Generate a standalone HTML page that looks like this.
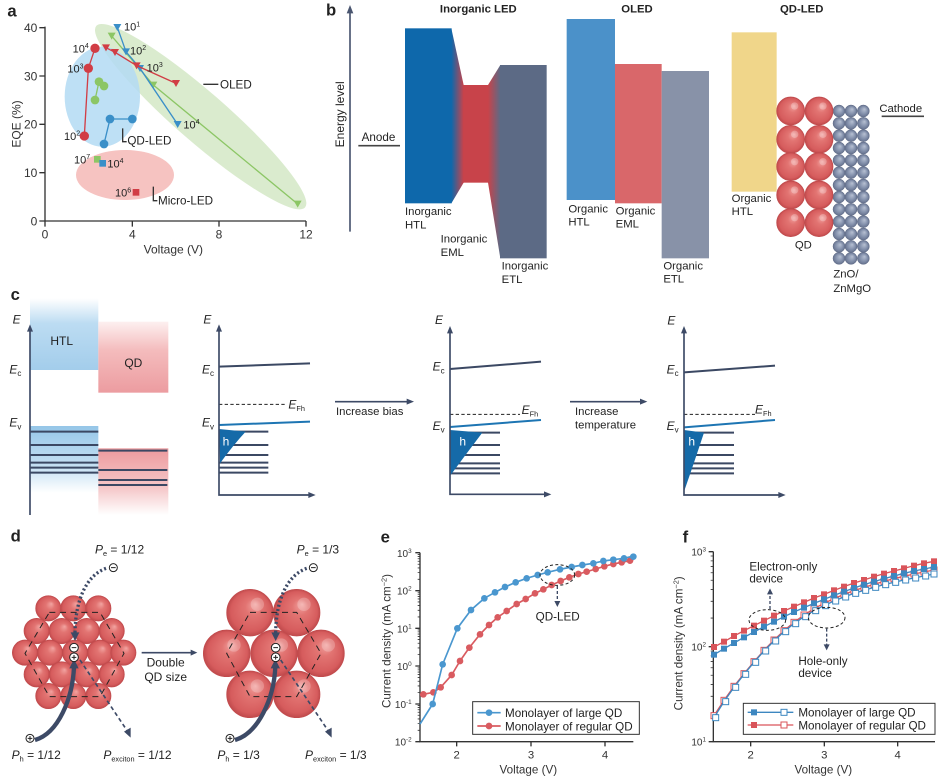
<!DOCTYPE html>
<html><head><meta charset="utf-8"><style>
html,body{margin:0;padding:0;background:#fff;}
svg{display:block;font-family:"Liberation Sans",Arial,sans-serif;}
</style></head><body>
<svg width="946" height="784" viewBox="0 0 946 784" xmlns="http://www.w3.org/2000/svg">
<defs>
<linearGradient id="gHE" x1="0" y1="0" x2="1" y2="0"><stop offset="0" stop-color="#0e68ab"/><stop offset="1" stop-color="#c8434a"/></linearGradient>
<linearGradient id="gEE" x1="0" y1="0" x2="1" y2="0"><stop offset="0" stop-color="#c8434a"/><stop offset="1" stop-color="#5c6a85"/></linearGradient>
<radialGradient id="sph" cx="0.5" cy="0.5" r="0.5" fx="0.62" fy="0.32"><stop offset="0" stop-color="#f2a4a1"/><stop offset="0.35" stop-color="#e27472"/><stop offset="0.85" stop-color="#d65c5d"/><stop offset="1" stop-color="#c04a4c"/></radialGradient>
<radialGradient id="zno" cx="0.5" cy="0.5" r="0.5" fx="0.6" fy="0.35"><stop offset="0" stop-color="#b8c1d3"/><stop offset="0.6" stop-color="#8592ad"/><stop offset="1" stop-color="#66728e"/></radialGradient>
<linearGradient id="gHT" x1="0" y1="0" x2="0" y2="1"><stop offset="0" stop-color="#ffffff"/><stop offset="0.35" stop-color="#bcdcf2"/><stop offset="1" stop-color="#a3cdeb"/></linearGradient>
<linearGradient id="gQT" x1="0" y1="0" x2="0" y2="1"><stop offset="0" stop-color="#fdf0f0"/><stop offset="0.4" stop-color="#f4bcbd"/><stop offset="1" stop-color="#ec9ca0"/></linearGradient>
<linearGradient id="gHL" x1="0" y1="0" x2="0" y2="1"><stop offset="0" stop-color="#95c6e8"/><stop offset="0.6" stop-color="#c5e0f3"/><stop offset="1" stop-color="#ffffff"/></linearGradient>
<linearGradient id="gQL" x1="0" y1="0" x2="0" y2="1"><stop offset="0" stop-color="#ec9a9d"/><stop offset="0.6" stop-color="#f5c8c9"/><stop offset="1" stop-color="#ffffff"/></linearGradient>
</defs>
<rect width="946" height="784" fill="#fff"/>

<!-- ===== Panel a ===== -->
<svg x="0" y="0" width="320" height="250" viewBox="0 0 960 750" overflow="visible">
<text x="22" y="50" font-size="50" font-weight="bold" fill="#222">a</text>
<ellipse cx="602" cy="350" rx="415" ry="75" transform="rotate(41 602 350)" fill="#d6e9c9" opacity="0.9"/>
<ellipse cx="307" cy="290" rx="113" ry="150" fill="#b3daf3" opacity="0.85"/>
<ellipse cx="375" cy="525" rx="147" ry="75" fill="#f6c3c1"/>
<path d="M135,80 V663 H918" stroke="#333" stroke-width="4" fill="none"/>
<path d="M118,83H135 M118,228H135 M118,373H135 M118,518H135 M118,663H135 M135,663V680 M397,663V680 M657,663V680 M918,663V680" stroke="#333" stroke-width="4"/>
<g font-size="36" fill="#333" text-anchor="end">
<text x="112" y="96">40</text><text x="112" y="241">30</text><text x="112" y="386">20</text><text x="112" y="531">10</text><text x="112" y="676">0</text>
</g>
<g font-size="36" fill="#333" text-anchor="middle">
<text x="135" y="716">0</text><text x="397" y="716">4</text><text x="657" y="716">8</text><text x="918" y="716">12</text>
<text x="520" y="760">Voltage (V)</text>
<text transform="translate(62,372) rotate(-90)">EQE (%)</text>
</g>
<polyline points="335,108 460,255 893,612" fill="none" stroke="#8cc665" stroke-width="4"/>
<g fill="#8cc665">
<polygon points="323,98 347,98 335,119"/><polygon points="448,245 472,245 460,266"/><polygon points="881,602 905,602 893,623"/>
</g>
<polyline points="285,300 297,245 312,258" fill="none" stroke="#8cc665" stroke-width="4"/>
<g fill="#8cc665"><circle cx="285" cy="300" r="13"/><circle cx="297" cy="245" r="13"/><circle cx="312" cy="258" r="13"/></g>
<polyline points="352,82 378,155 420,205 533,373" fill="none" stroke="#3a8fc8" stroke-width="4"/>
<g fill="#3a8fc8">
<polygon points="340,72 364,72 352,93"/><polygon points="366,145 390,145 378,166"/><polygon points="408,195 432,195 420,216"/><polygon points="521,363 545,363 533,384"/>
</g>
<polyline points="312,432 330,357 397,357" fill="none" stroke="#3a8fc8" stroke-width="4"/>
<g fill="#3a8fc8"><circle cx="312" cy="432" r="13"/><circle cx="330" cy="357" r="13"/><circle cx="397" cy="357" r="13"/></g>
<polyline points="318,143 345,157 410,197 528,250" fill="none" stroke="#d13d45" stroke-width="4"/>
<g fill="#d13d45">
<polygon points="306,133 330,133 318,154"/><polygon points="333,147 357,147 345,168"/><polygon points="398,187 422,187 410,208"/><polygon points="516,240 540,240 528,261"/>
</g>
<polyline points="253,408 265,205 285,145" fill="none" stroke="#d13d45" stroke-width="4"/>
<g fill="#d13d45"><circle cx="253" cy="408" r="14"/><circle cx="265" cy="205" r="14"/><circle cx="285" cy="145" r="14"/></g>
<rect x="282" y="468" width="20" height="20" fill="#8cc665"/>
<rect x="298" y="480" width="20" height="20" fill="#3a8fc8"/>
<rect x="398" y="567" width="20" height="20" fill="#d13d45"/>
<g font-size="33" fill="#222">
<text x="372" y="92">10<tspan font-size="21" dy="-13">1</tspan></text>
<text x="390" y="163">10<tspan font-size="21" dy="-13">2</tspan></text>
<text x="440" y="214">10<tspan font-size="21" dy="-13">3</tspan></text>
<text x="550" y="385">10<tspan font-size="21" dy="-13">4</tspan></text>
<text x="218" y="157">10<tspan font-size="21" dy="-13">4</tspan></text>
<text x="202" y="218">10<tspan font-size="21" dy="-13">3</tspan></text>
<text x="192" y="420">10<tspan font-size="21" dy="-13">2</tspan></text>
<text x="222" y="490">10<tspan font-size="21" dy="-13">7</tspan></text>
<text x="322" y="502">10<tspan font-size="21" dy="-13">4</tspan></text>
<text x="345" y="590">10<tspan font-size="21" dy="-13">6</tspan></text>
</g>
<path d="M610,253H655 M368,385V425H380 M460,560V602H472" stroke="#333" stroke-width="4" fill="none"/>
<g font-size="35" fill="#222">
<text x="660" y="265">OLED</text>
<text x="382" y="433">QD-LED</text>
<text x="474" y="614">Micro-LED</text>
</g>
</svg>

<!-- ===== Panel b left ===== -->
<svg x="320" y="0" width="320" height="300" viewBox="0 0 960 900" overflow="visible">
<text x="18" y="47" font-size="50" font-weight="bold" fill="#222">b</text>
<line x1="90" y1="695" x2="90" y2="35" stroke="#4a5670" stroke-width="5"/>
<polygon points="80,40 100,40 90,15" fill="#4a5670"/>
<text transform="translate(72,343) rotate(-90)" text-anchor="middle" font-size="36" fill="#222">Energy level</text>
<text x="475" y="37" text-anchor="middle" font-size="34" font-weight="bold" fill="#222">Inorganic LED</text>
<text x="125" y="423" font-size="35" fill="#222">Anode</text>
<line x1="115" y1="437" x2="240" y2="437" stroke="#444" stroke-width="5"/>
<rect x="255" y="85" width="140" height="525" fill="#0e68ab"/>
<polygon points="394,85 431,255 431,548 394,610" fill="url(#gHE)"/>
<rect x="430" y="255" width="75" height="293" fill="#c8434a"/>
<polygon points="504,255 541,195 541,775 504,548" fill="url(#gEE)"/>
<rect x="540" y="195" width="140" height="580" fill="#5c6a85"/>
<rect x="740" y="57" width="145" height="543" fill="#4b91c9"/>
<g font-size="34" fill="#222">
<text x="255" y="645">Inorganic</text><text x="255" y="685">HTL</text>
<text x="362" y="727">Inorganic</text><text x="362" y="768">EML</text>
<text x="545" y="808">Inorganic</text><text x="545" y="849">ETL</text>
<text x="745" y="638">Organic</text><text x="745" y="676">HTL</text>
<text x="887" y="644">Organic</text><text x="887" y="683">EML</text>
</g>
<text x="951" y="37" text-anchor="middle" font-size="34" font-weight="bold" fill="#222">OLED</text>
</svg>

<!-- ===== Panel b right ===== -->
<svg x="630" y="0" width="316" height="300" viewBox="0 0 948 900" overflow="visible">
<rect x="-45" y="192" width="140" height="418" fill="#d9676a"/>
<rect x="95" y="213" width="142" height="562" fill="#8892a8"/>
<g font-size="34" fill="#222">
<text x="100" y="808">Organic</text><text x="100" y="848">ETL</text>
</g>
<text x="515" y="37" text-anchor="middle" font-size="34" font-weight="bold" fill="#222">QD-LED</text>
<rect x="305" y="97" width="135" height="478" fill="#f0d68a"/>
<g font-size="34" fill="#222">
<text x="305" y="606">Organic</text><text x="305" y="645">HTL</text>
<text x="520" y="745" text-anchor="middle">QD</text>
<text x="610" y="833">ZnO/</text><text x="610" y="876">ZnMgO</text>
<text x="748" y="336">Cathode</text>
</g>
<line x1="755" y1="349" x2="882" y2="349" stroke="#444" stroke-width="5"/>
<g fill="url(#zno)" stroke="#5f6b87" stroke-width="1.5">
<circle cx="627" cy="333" r="18"/><circle cx="663" cy="333" r="18"/><circle cx="700" cy="333" r="18"/>
<circle cx="627" cy="370" r="18"/><circle cx="663" cy="370" r="18"/><circle cx="700" cy="370" r="18"/>
<circle cx="627" cy="407" r="18"/><circle cx="663" cy="407" r="18"/><circle cx="700" cy="407" r="18"/>
<circle cx="627" cy="444" r="18"/><circle cx="663" cy="444" r="18"/><circle cx="700" cy="444" r="18"/>
<circle cx="627" cy="481" r="18"/><circle cx="663" cy="481" r="18"/><circle cx="700" cy="481" r="18"/>
<circle cx="627" cy="518" r="18"/><circle cx="663" cy="518" r="18"/><circle cx="700" cy="518" r="18"/>
<circle cx="627" cy="555" r="18"/><circle cx="663" cy="555" r="18"/><circle cx="700" cy="555" r="18"/>
<circle cx="627" cy="591" r="18"/><circle cx="663" cy="591" r="18"/><circle cx="700" cy="591" r="18"/>
<circle cx="627" cy="628" r="18"/><circle cx="663" cy="628" r="18"/><circle cx="700" cy="628" r="18"/>
<circle cx="627" cy="665" r="18"/><circle cx="663" cy="665" r="18"/><circle cx="700" cy="665" r="18"/>
<circle cx="627" cy="702" r="18"/><circle cx="663" cy="702" r="18"/><circle cx="700" cy="702" r="18"/>
<circle cx="627" cy="739" r="18"/><circle cx="663" cy="739" r="18"/><circle cx="700" cy="739" r="18"/>
<circle cx="627" cy="775" r="18"/><circle cx="663" cy="775" r="18"/><circle cx="700" cy="775" r="18"/>
</g>
<g fill="url(#sph)" stroke="#c04a4c" stroke-width="2">
<circle cx="482" cy="333" r="42"/><circle cx="567" cy="333" r="42"/>
<circle cx="482" cy="418" r="42"/><circle cx="567" cy="418" r="42"/>
<circle cx="482" cy="500" r="42"/><circle cx="567" cy="500" r="42"/>
<circle cx="482" cy="585" r="42"/><circle cx="567" cy="585" r="42"/>
<circle cx="482" cy="668" r="42"/><circle cx="567" cy="668" r="42"/>
</g>
<g fill="#fff" opacity="0.25">
<circle cx="494" cy="318" r="11"/><circle cx="579" cy="318" r="11"/>
<circle cx="494" cy="403" r="11"/><circle cx="579" cy="403" r="11"/>
<circle cx="494" cy="485" r="11"/><circle cx="579" cy="485" r="11"/>
<circle cx="494" cy="570" r="11"/><circle cx="579" cy="570" r="11"/>
<circle cx="494" cy="653" r="11"/><circle cx="579" cy="653" r="11"/>
</g>
</svg>

<!-- ===== Panel c left ===== -->
<svg x="0" y="285" width="320" height="230" viewBox="0 0 960 690" overflow="visible">
<text x="32" y="45" font-size="50" font-weight="bold" fill="#222">c</text>
<rect x="90" y="40" width="205" height="215" fill="url(#gHT)"/>
<rect x="295" y="110" width="210" height="213" fill="url(#gQT)"/>
<rect x="90" y="423" width="205" height="200" fill="url(#gHL)"/>
<rect x="295" y="490" width="210" height="200" fill="url(#gQL)"/>
<g stroke="#3b4863" stroke-width="6">
<path d="M90,440H295 M90,480H295 M90,510H295 M90,533H295 M90,548H295 M90,563H295"/>
<path d="M295,497H502 M295,555H502 M295,585H502 M295,600H502"/>
</g>
<line x1="90" y1="690" x2="90" y2="135" stroke="#3d4a66" stroke-width="5"/>
<polygon points="81,140 99,140 90,118" fill="#3d4a66"/>
<text x="185" y="180" text-anchor="middle" font-size="36" fill="#222">HTL</text>
<text x="400" y="246" text-anchor="middle" font-size="36" fill="#222">QD</text>
<g font-size="36" fill="#222" font-style="italic">
<text x="38" y="115">E</text>
<text x="28" y="265">E<tspan font-style="normal" font-size="24" dy="8">c</tspan></text>
<text x="28" y="425">E<tspan font-style="normal" font-size="24" dy="8">v</tspan></text>
<text x="610" y="115">E</text>
<text x="606" y="265">E<tspan font-style="normal" font-size="24" dy="8">c</tspan></text>
<text x="606" y="425">E<tspan font-style="normal" font-size="24" dy="8">v</tspan></text>
<text x="865" y="370">E<tspan font-style="normal" font-size="22" dy="8">Fh</tspan></text>
</g>
<g stroke="#3b4863" stroke-width="6">
<path d="M690,440H805 M675,480H805 M660,510H805 M657,533H805 M657,548H805 M657,563H805"/>
</g>
<path d="M657,432 L737,440 Q700,480 660,535 Z" fill="#156aa8"/>
<text x="668" y="482" font-size="36" fill="#fff">h</text>
<line x1="657" y1="245" x2="930" y2="235" stroke="#3b4863" stroke-width="6"/>
<line x1="657" y1="358" x2="855" y2="358" stroke="#222" stroke-width="3" stroke-dasharray="10 7"/>
<line x1="657" y1="420" x2="930" y2="410" stroke="#1d75b3" stroke-width="6"/>
<path d="M657,135V630H930" stroke="#3d4a66" stroke-width="5" fill="none"/>
<polygon points="648,140 666,140 657,118" fill="#3d4a66"/>
<polygon points="925,621 925,639 947,630" fill="#3d4a66"/>
</svg>

<!-- ===== Panel c middle ===== -->
<svg x="320" y="300" width="320" height="210" viewBox="0 0 960 630" overflow="visible">
<line x1="45" y1="305" x2="265" y2="305" stroke="#3d4a66" stroke-width="5"/>
<polygon points="260,296 260,314 282,305" fill="#3d4a66"/>
<text x="48" y="345" font-size="34" fill="#222">Increase bias</text>
<line x1="750" y1="305" x2="965" y2="305" stroke="#3d4a66" stroke-width="5"/>
<polygon points="960,296 960,314 982,305" fill="#3d4a66"/>
<text x="765" y="345" font-size="34" fill="#222">Increase</text>
<text x="765" y="385" font-size="34" fill="#222">temperature</text>
<g stroke="#3b4863" stroke-width="6">
<path d="M420,398H540 M440,435H540 M410,465H540 M395,490H540 M390,505H540 M390,520H540"/>
</g>
<path d="M390,390 L487,398 Q440,460 392,525 Z" fill="#156aa8"/>
<text x="418" y="437" font-size="36" fill="#fff">h</text>
<line x1="390" y1="207" x2="663" y2="185" stroke="#3b4863" stroke-width="6"/>
<line x1="390" y1="343" x2="600" y2="343" stroke="#222" stroke-width="3" stroke-dasharray="10 7"/>
<line x1="390" y1="381" x2="663" y2="360" stroke="#1d75b3" stroke-width="6"/>
<path d="M390,95V583H675" stroke="#3d4a66" stroke-width="5" fill="none"/>
<polygon points="381,100 399,100 390,78" fill="#3d4a66"/>
<polygon points="672,574 672,592 694,583" fill="#3d4a66"/>
<g font-size="36" fill="#222" font-style="italic">
<text x="345" y="72">E</text>
<text x="338" y="212">E<tspan font-style="normal" font-size="24" dy="8">c</tspan></text>
<text x="338" y="390">E<tspan font-style="normal" font-size="24" dy="8">v</tspan></text>
<text x="605" y="342">E<tspan font-style="normal" font-size="22" dy="8">Fh</tspan></text>
</g>
</svg>

<!-- ===== Panel c right ===== -->
<svg x="630" y="300" width="316" height="210" viewBox="0 0 948 630" overflow="visible">
<g stroke="#3b4863" stroke-width="6">
<path d="M190,398H312 M190,435H312 M180,465H312 M175,490H312 M170,505H312 M165,520H312"/>
</g>
<path d="M162,390 L222,398 Q195,480 162,575 Z" fill="#156aa8"/>
<text x="175" y="437" font-size="36" fill="#fff">h</text>
<line x1="162" y1="217" x2="435" y2="197" stroke="#3b4863" stroke-width="6"/>
<line x1="162" y1="343" x2="375" y2="343" stroke="#222" stroke-width="3" stroke-dasharray="10 7"/>
<line x1="162" y1="382" x2="435" y2="360" stroke="#1d75b3" stroke-width="6"/>
<path d="M162,95V585H448" stroke="#3d4a66" stroke-width="5" fill="none"/>
<polygon points="153,100 171,100 162,78" fill="#3d4a66"/>
<polygon points="445,576 445,594 467,585" fill="#3d4a66"/>
<g font-size="36" fill="#222" font-style="italic">
<text x="112" y="74">E</text>
<text x="110" y="220">E<tspan font-style="normal" font-size="24" dy="8">c</tspan></text>
<text x="110" y="390">E<tspan font-style="normal" font-size="24" dy="8">v</tspan></text>
<text x="375" y="340">E<tspan font-style="normal" font-size="22" dy="8">Fh</tspan></text>
</g>
</svg>

<!-- ===== Panel d ===== -->
<svg x="0" y="525" width="370" height="259" viewBox="0 0 1110 777" overflow="visible">
<text x="32" y="50" font-size="50" font-weight="bold" fill="#222">d</text>
<g fill="url(#sph)" stroke="#c24b4d" stroke-width="2">
<circle cx="145" cy="250" r="38"/><circle cx="220" cy="250" r="38"/><circle cx="295" cy="250" r="38"/>
<circle cx="110" cy="318" r="38"/><circle cx="185" cy="318" r="38"/><circle cx="260" cy="318" r="38"/><circle cx="335" cy="318" r="38"/>
<circle cx="75" cy="383" r="38"/><circle cx="150" cy="383" r="38"/><circle cx="225" cy="383" r="38"/><circle cx="300" cy="383" r="38"/><circle cx="370" cy="383" r="38"/>
<circle cx="110" cy="448" r="38"/><circle cx="185" cy="448" r="38"/><circle cx="260" cy="448" r="38"/><circle cx="335" cy="448" r="38"/>
<circle cx="145" cy="513" r="38"/><circle cx="220" cy="513" r="38"/><circle cx="295" cy="513" r="38"/>
</g>
<g fill="url(#sph)" stroke="#c24b4d" stroke-width="2">
<circle cx="750" cy="263" r="70"/><circle cx="890" cy="263" r="70"/>
<circle cx="680" cy="385" r="70"/><circle cx="822" cy="385" r="70"/><circle cx="963" cy="385" r="70"/>
<circle cx="750" cy="508" r="70"/><circle cx="890" cy="508" r="70"/>
</g>
<g fill="#fff" opacity="0.22">
<circle cx="772" cy="238" r="20"/><circle cx="912" cy="238" r="20"/><circle cx="702" cy="360" r="20"/><circle cx="844" cy="360" r="20"/><circle cx="985" cy="360" r="20"/><circle cx="772" cy="483" r="20"/><circle cx="912" cy="483" r="20"/>
</g>
<g fill="none" stroke="#222" stroke-width="3" stroke-dasharray="18 14">
<polygon points="148,262 300,262 372,385 300,515 148,515 75,385"/>
<polygon points="750,262 890,262 963,385 890,515 750,515 680,385"/>
</g>
<path d="M318,130 C262,150 226,220 225,325" fill="none" stroke="#3d4a66" stroke-width="10" stroke-dasharray="6 7"/>
<polygon points="212,322 238,322 225,348" fill="#3d4a66"/>
<path d="M105,645 C175,625 218,520 222,425" fill="none" stroke="#3d4a66" stroke-width="13"/>
<polygon points="208,430 236,430 222,402" fill="#3d4a66"/>
<path d="M240,405 L382,618" fill="none" stroke="#3d4a66" stroke-width="5" stroke-dasharray="12 9"/>
<polygon points="372,620 392,608 392,638" fill="#3d4a66"/>
<path d="M920,130 C864,150 828,220 827,325" fill="none" stroke="#3d4a66" stroke-width="10" stroke-dasharray="6 7"/>
<polygon points="814,322 840,322 827,348" fill="#3d4a66"/>
<path d="M705,645 C775,625 822,520 826,425" fill="none" stroke="#3d4a66" stroke-width="13"/>
<polygon points="812,430 840,430 826,402" fill="#3d4a66"/>
<path d="M842,405 L985,618" fill="none" stroke="#3d4a66" stroke-width="5" stroke-dasharray="12 9"/>
<polygon points="975,620 995,608 995,638" fill="#3d4a66"/>
<g fill="#fff" stroke="#222" stroke-width="3">
<circle cx="340" cy="128" r="12"/><circle cx="90" cy="640" r="12"/>
<circle cx="222" cy="368" r="13"/><circle cx="222" cy="397" r="13"/>
<circle cx="940" cy="128" r="12"/><circle cx="690" cy="640" r="12"/>
<circle cx="827" cy="368" r="13"/><circle cx="827" cy="397" r="13"/>
</g>
<g stroke="#222" stroke-width="3">
<path d="M333,128H347 M83,640H97 M90,633V647 M215,368H229 M215,397H229 M222,390V404"/>
<path d="M933,128H947 M683,640H697 M690,633V647 M820,368H834 M820,397H834 M827,390V404"/>
</g>
<g font-size="36" fill="#222">
<text x="285" y="85"><tspan font-style="italic">P</tspan><tspan font-size="22" dy="8">e</tspan><tspan dy="-8"> = 1/12</tspan></text>
<text x="35" y="702"><tspan font-style="italic">P</tspan><tspan font-size="22" dy="8">h</tspan><tspan dy="-8"> = 1/12</tspan></text>
<text x="310" y="702"><tspan font-style="italic">P</tspan><tspan font-size="22" dy="8">exciton</tspan><tspan dy="-8"> = 1/12</tspan></text>
<text x="890" y="85"><tspan font-style="italic">P</tspan><tspan font-size="22" dy="8">e</tspan><tspan dy="-8"> = 1/3</tspan></text>
<text x="652" y="702"><tspan font-style="italic">P</tspan><tspan font-size="22" dy="8">h</tspan><tspan dy="-8"> = 1/3</tspan></text>
<text x="915" y="702"><tspan font-style="italic">P</tspan><tspan font-size="22" dy="8">exciton</tspan><tspan dy="-8"> = 1/3</tspan></text>
<text x="497" y="425" text-anchor="middle">Double</text>
<text x="497" y="468" text-anchor="middle">QD size</text>
</g>
<line x1="425" y1="383" x2="575" y2="383" stroke="#3d4a66" stroke-width="5"/>
<polygon points="572,374 572,392 592,383" fill="#3d4a66"/>
</svg>

<!-- ===== Panel e ===== -->
<svg x="370" y="525" width="290" height="259" viewBox="0 0 870 777" overflow="visible">
<text x="32" y="52" font-size="50" font-weight="bold" fill="#222">e</text>
<path d="M150,83V650H790" stroke="#333" stroke-width="4" fill="none"/>
<path d="M136,83H150 M136,197H150 M136,310H150 M136,423H150 M136,537H150 M136,650H150 M260,650V664 M483,650V664 M705,650V664" stroke="#333" stroke-width="4"/>
<path stroke="#333" stroke-width="2.5" d="M143,615.9H150 M143,595.9H150 M143,581.7H150 M143,570.7H150 M143,561.8H150 M143,554.2H150 M143,547.6H150 M143,541.8H150 M143,502.9H150 M143,482.9H150 M143,468.7H150 M143,457.7H150 M143,448.8H150 M143,441.2H150 M143,434.6H150 M143,428.8H150 M143,388.9H150 M143,368.9H150 M143,354.7H150 M143,343.7H150 M143,334.8H150 M143,327.2H150 M143,320.6H150 M143,314.8H150 M143,275.9H150 M143,255.9H150 M143,241.7H150 M143,230.7H150 M143,221.8H150 M143,214.2H150 M143,207.6H150 M143,201.8H150 M143,162.9H150 M143,142.9H150 M143,128.7H150 M143,117.7H150 M143,108.8H150 M143,101.2H150 M143,94.6H150 M143,88.8H150"/>
<g font-size="30" fill="#333" text-anchor="end">
<text x="125" y="96">10<tspan font-size="19" dy="-12">3</tspan></text>
<text x="125" y="209">10<tspan font-size="19" dy="-12">2</tspan></text>
<text x="125" y="322">10<tspan font-size="19" dy="-12">1</tspan></text>
<text x="125" y="435">10<tspan font-size="19" dy="-12">0</tspan></text>
<text x="125" y="549">10<tspan font-size="19" dy="-12">-1</tspan></text>
<text x="125" y="662">10<tspan font-size="19" dy="-12">-2</tspan></text>
</g>
<g font-size="34" fill="#333" text-anchor="middle">
<text x="260" y="700">2</text><text x="483" y="700">3</text><text x="705" y="700">4</text>
<text x="475" y="745" font-size="35">Voltage (V)</text>
<text transform="translate(62,348) rotate(-90)" font-size="35">Current density (mA cm<tspan font-size="22" dy="-12">−2</tspan><tspan dy="12">)</tspan></text>
</g>
<polyline fill="none" stroke="#d95b60" stroke-width="5" points="150,510 160,508 190,502 212,487 245,450 270,408 298,368 330,328 357,300 383,277 410,258 440,237 467,222 495,205 520,193 545,180 572,168 598,157 625,147 650,140 677,132 703,124 730,117 755,112 780,107 790,104"/>
<g fill="#d95b60">
<circle cx="160" cy="508" r="10"/><circle cx="190" cy="502" r="10"/><circle cx="212" cy="487" r="10"/><circle cx="245" cy="450" r="10"/><circle cx="270" cy="408" r="10"/><circle cx="298" cy="368" r="10"/><circle cx="330" cy="328" r="10"/><circle cx="357" cy="300" r="10"/><circle cx="383" cy="277" r="10"/><circle cx="410" cy="258" r="10"/><circle cx="440" cy="237" r="10"/><circle cx="467" cy="222" r="10"/><circle cx="495" cy="205" r="10"/><circle cx="520" cy="193" r="10"/><circle cx="545" cy="180" r="10"/><circle cx="572" cy="168" r="10"/><circle cx="598" cy="157" r="10"/><circle cx="625" cy="147" r="10"/><circle cx="650" cy="140" r="10"/><circle cx="677" cy="132" r="10"/><circle cx="703" cy="124" r="10"/><circle cx="730" cy="117" r="10"/><circle cx="755" cy="112" r="10"/><circle cx="780" cy="107" r="10"/>
</g>
<polyline fill="none" stroke="#4a97cf" stroke-width="5" points="150,597 188,537 218,418 262,310 303,255 343,220 375,202 405,186 437,172 470,160 503,150 533,142 570,133 605,126 637,120 670,115 700,108 730,104 762,100 790,93"/>
<g fill="#4a97cf">
<circle cx="188" cy="537" r="10"/><circle cx="218" cy="418" r="10"/><circle cx="262" cy="310" r="10"/><circle cx="303" cy="255" r="10"/><circle cx="343" cy="220" r="10"/><circle cx="375" cy="202" r="10"/><circle cx="405" cy="186" r="10"/><circle cx="437" cy="172" r="10"/><circle cx="470" cy="160" r="10"/><circle cx="503" cy="150" r="10"/><circle cx="533" cy="142" r="10"/><circle cx="570" cy="133" r="10"/><circle cx="605" cy="126" r="10"/><circle cx="637" cy="120" r="10"/><circle cx="670" cy="115" r="10"/><circle cx="700" cy="108" r="10"/><circle cx="730" cy="104" r="10"/><circle cx="762" cy="100" r="10"/><circle cx="790" cy="95" r="10"/>
</g>
<ellipse cx="562" cy="150" rx="52" ry="31" fill="none" stroke="#222" stroke-width="3" stroke-dasharray="9 7"/>
<line x1="562" y1="183" x2="562" y2="230" stroke="#3d4a66" stroke-width="4" stroke-dasharray="9 6"/>
<polygon points="553,228 571,228 562,246" fill="#3d4a66"/>
<text x="497" y="287" font-size="35" fill="#222">QD-LED</text>
<rect x="308" y="530" width="500" height="98" fill="#fff" stroke="#333" stroke-width="3"/>
<line x1="322" y1="563" x2="392" y2="563" stroke="#4a97cf" stroke-width="5"/><circle cx="357" cy="563" r="10" fill="#4a97cf"/>
<line x1="322" y1="603" x2="392" y2="603" stroke="#d95b60" stroke-width="5"/><circle cx="357" cy="603" r="10" fill="#d95b60"/>
<text x="405" y="576" font-size="35" fill="#222">Monolayer of large QD</text>
<text x="405" y="616" font-size="35" fill="#222">Monolayer of regular QD</text>
</svg>

<!-- ===== Panel f ===== -->
<svg x="660" y="525" width="286" height="259" viewBox="0 0 858 777" overflow="visible">
<text x="68" y="52" font-size="50" font-weight="bold" fill="#222">f</text>
<path d="M160,80V650H825" stroke="#333" stroke-width="4" fill="none"/>
<path d="M146,80H160 M146,365H160 M146,650H160 M272,650V664 M493,650V664 M713,650V664" stroke="#333" stroke-width="4"/>
<path stroke="#333" stroke-width="2.5" d="M152,564.2H160 M152,514H160 M152,478.4H160 M152,450.8H160 M152,428.2H160 M152,409.2H160 M152,392.6H160 M152,378H160 M152,279.2H160 M152,229H160 M152,193.4H160 M152,165.8H160 M152,143.2H160 M152,124.2H160 M152,107.6H160 M152,93H160"/>
<g font-size="30" fill="#333" text-anchor="end">
<text x="138" y="92">10<tspan font-size="19" dy="-12">3</tspan></text>
<text x="138" y="377">10<tspan font-size="19" dy="-12">2</tspan></text>
<text x="138" y="662">10<tspan font-size="19" dy="-12">1</tspan></text>
</g>
<g font-size="34" fill="#333" text-anchor="middle">
<text x="272" y="700">2</text><text x="493" y="700">3</text><text x="713" y="700">4</text>
<text x="490" y="745" font-size="35">Voltage (V)</text>
<text transform="translate(68,355) rotate(-90)" font-size="35">Current density (mA cm<tspan font-size="22" dy="-12">−2</tspan><tspan dy="12">)</tspan></text>
</g>
<polyline fill="none" stroke="#d9545a" stroke-width="4" points="162,572 192,526 222,484 252,446 282,410 312,376 342,345 372,317 402,292 432,270 462,251 492,235 522,221 552,208 582,197 612,187 642,178 672,169 702,161 732,154 762,147 792,141 822,135"/>
<g fill="#fff" stroke="#d9545a" stroke-width="3">
<rect x="153" y="563" width="18" height="18"/><rect x="183" y="517" width="18" height="18"/><rect x="213" y="475" width="18" height="18"/><rect x="243" y="437" width="18" height="18"/><rect x="273" y="401" width="18" height="18"/><rect x="303" y="367" width="18" height="18"/><rect x="333" y="336" width="18" height="18"/><rect x="363" y="308" width="18" height="18"/><rect x="393" y="283" width="18" height="18"/><rect x="423" y="261" width="18" height="18"/><rect x="453" y="242" width="18" height="18"/><rect x="483" y="226" width="18" height="18"/><rect x="513" y="212" width="18" height="18"/><rect x="543" y="199" width="18" height="18"/><rect x="573" y="188" width="18" height="18"/><rect x="603" y="178" width="18" height="18"/><rect x="633" y="169" width="18" height="18"/><rect x="663" y="160" width="18" height="18"/><rect x="693" y="152" width="18" height="18"/><rect x="723" y="145" width="18" height="18"/><rect x="753" y="138" width="18" height="18"/><rect x="783" y="132" width="18" height="18"/><rect x="813" y="126" width="18" height="18"/>
</g>
<polyline fill="none" stroke="#3d87c0" stroke-width="4" points="162,578 192,530 222,487 252,448 282,412 312,378 342,348 372,320 402,296 432,275 462,257 492,242 522,228 552,216 582,205 612,196 642,187 672,179 702,172 732,165 762,159 792,153 822,147"/>
<g fill="#fff" stroke="#3d87c0" stroke-width="3">
<rect x="158" y="569" width="18" height="18"/><rect x="188" y="521" width="18" height="18"/><rect x="218" y="478" width="18" height="18"/><rect x="248" y="439" width="18" height="18"/><rect x="278" y="403" width="18" height="18"/><rect x="308" y="369" width="18" height="18"/><rect x="338" y="339" width="18" height="18"/><rect x="368" y="311" width="18" height="18"/><rect x="398" y="287" width="18" height="18"/><rect x="428" y="266" width="18" height="18"/><rect x="458" y="248" width="18" height="18"/><rect x="488" y="233" width="18" height="18"/><rect x="518" y="219" width="18" height="18"/><rect x="548" y="207" width="18" height="18"/><rect x="578" y="196" width="18" height="18"/><rect x="608" y="187" width="18" height="18"/><rect x="638" y="178" width="18" height="18"/><rect x="668" y="170" width="18" height="18"/><rect x="698" y="163" width="18" height="18"/><rect x="728" y="156" width="18" height="18"/><rect x="758" y="150" width="18" height="18"/><rect x="788" y="144" width="18" height="18"/><rect x="813" y="138" width="18" height="18"/>
</g>
<polyline fill="none" stroke="#d9545a" stroke-width="4" points="162,366 192,350 222,333 252,317 282,302 312,287 342,272 372,258 402,245 432,232 462,219 492,208 522,196 552,185 582,174 612,165 642,155 672,146 702,138 732,130 762,122 792,115 822,109"/>
<g fill="#d9545a">
<rect x="153" y="357" width="18" height="18"/><rect x="183" y="341" width="18" height="18"/><rect x="213" y="324" width="18" height="18"/><rect x="243" y="308" width="18" height="18"/><rect x="273" y="293" width="18" height="18"/><rect x="303" y="278" width="18" height="18"/><rect x="333" y="263" width="18" height="18"/><rect x="363" y="249" width="18" height="18"/><rect x="393" y="236" width="18" height="18"/><rect x="423" y="223" width="18" height="18"/><rect x="453" y="210" width="18" height="18"/><rect x="483" y="199" width="18" height="18"/><rect x="513" y="187" width="18" height="18"/><rect x="543" y="176" width="18" height="18"/><rect x="573" y="165" width="18" height="18"/><rect x="603" y="156" width="18" height="18"/><rect x="633" y="146" width="18" height="18"/><rect x="663" y="137" width="18" height="18"/><rect x="693" y="129" width="18" height="18"/><rect x="723" y="121" width="18" height="18"/><rect x="753" y="113" width="18" height="18"/><rect x="783" y="106" width="18" height="18"/><rect x="813" y="100" width="18" height="18"/>
</g>
<polyline fill="none" stroke="#3d87c0" stroke-width="4" points="162,389 192,371 222,354 252,337 282,321 312,305 342,290 372,275 402,261 432,248 462,235 492,223 522,211 552,200 582,189 612,179 642,170 672,161 702,153 732,145 762,138 792,132 822,126"/>
<g fill="#3d87c0">
<rect x="153" y="380" width="18" height="18"/><rect x="183" y="362" width="18" height="18"/><rect x="213" y="345" width="18" height="18"/><rect x="243" y="328" width="18" height="18"/><rect x="273" y="312" width="18" height="18"/><rect x="303" y="296" width="18" height="18"/><rect x="333" y="281" width="18" height="18"/><rect x="363" y="266" width="18" height="18"/><rect x="393" y="252" width="18" height="18"/><rect x="423" y="239" width="18" height="18"/><rect x="453" y="226" width="18" height="18"/><rect x="483" y="214" width="18" height="18"/><rect x="513" y="202" width="18" height="18"/><rect x="543" y="191" width="18" height="18"/><rect x="573" y="180" width="18" height="18"/><rect x="603" y="170" width="18" height="18"/><rect x="633" y="161" width="18" height="18"/><rect x="663" y="152" width="18" height="18"/><rect x="693" y="144" width="18" height="18"/><rect x="723" y="136" width="18" height="18"/><rect x="753" y="129" width="18" height="18"/><rect x="783" y="123" width="18" height="18"/><rect x="813" y="117" width="18" height="18"/>
</g>
<ellipse cx="322" cy="285" rx="55" ry="31" fill="none" stroke="#222" stroke-width="3" stroke-dasharray="9 7"/>
<ellipse cx="500" cy="278" rx="55" ry="31" fill="none" stroke="#222" stroke-width="3" stroke-dasharray="9 7"/>
<line x1="330" y1="252" x2="330" y2="205" stroke="#3d4a66" stroke-width="4" stroke-dasharray="9 6"/>
<polygon points="321,208 339,208 330,190" fill="#3d4a66"/>
<line x1="500" y1="311" x2="500" y2="360" stroke="#3d4a66" stroke-width="4" stroke-dasharray="9 6"/>
<polygon points="491,358 509,358 500,376" fill="#3d4a66"/>
<g font-size="35" fill="#222">
<text x="268" y="137">Electron-only</text><text x="268" y="172">device</text>
<text x="415" y="420">Hole-only</text><text x="415" y="456">device</text>
</g>
<rect x="250" y="535" width="575" height="93" fill="#fff" stroke="#333" stroke-width="3"/>
<line x1="263" y1="562" x2="400" y2="562" stroke="#3d87c0" stroke-width="4"/>
<rect x="273" y="553" width="18" height="18" fill="#3d87c0"/>
<rect x="363" y="553" width="18" height="18" fill="#fff" stroke="#3d87c0" stroke-width="3"/>
<line x1="263" y1="600" x2="400" y2="600" stroke="#d9545a" stroke-width="4"/>
<rect x="273" y="591" width="18" height="18" fill="#d9545a"/>
<rect x="363" y="591" width="18" height="18" fill="#fff" stroke="#d9545a" stroke-width="3"/>
<text x="415" y="575" font-size="35" fill="#222">Monolayer of large QD</text>
<text x="415" y="613" font-size="35" fill="#222">Monolayer of regular QD</text>
</svg>

</svg>
</body></html>
